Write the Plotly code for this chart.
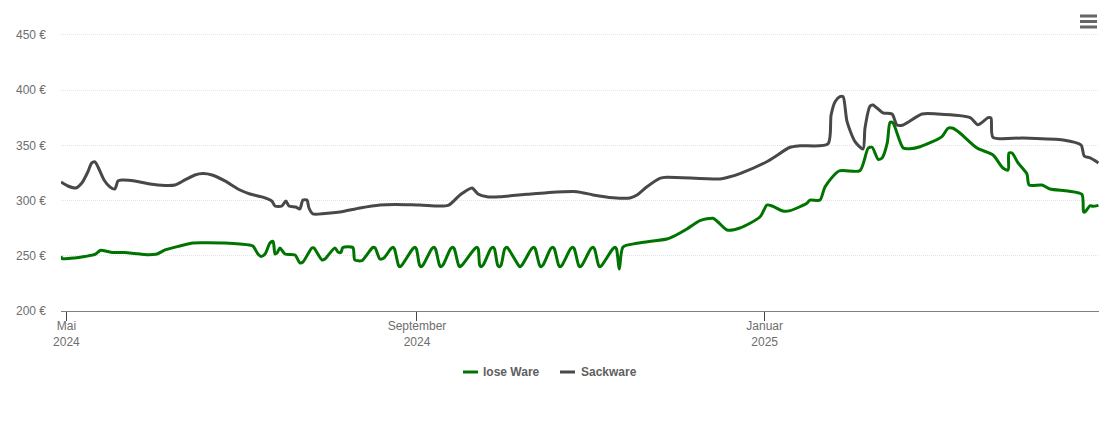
import pandas as pd
import plotly.graph_objs as go

START = pd.Timestamp('2024-05-01')

# days since 1 May 2024 and price in euro
lose_days = [
    -1.9, -1.6, 3.0, 6.5, 10, 11.8, 12.8, 16, 20.5, 24, 28.6, 31.8, 34.6, 39.8, 44.4, 48.6,
    55.6, 60.9, 65.4, 67.2, 68.3, 69.7, 71.4, 72.5, 73.2, 73.9, 74.9, 76.7, 80.2, 81.9, 83,
    86.1, 86.8, 89.7, 90.7, 94.2, 95.3, 96.3, 97, 100.5, 101.2, 103.7, 105.1, 107.5, 108.3,
    110, 111.4,
    113.8, 114.6, 115.1, 116.5, 117, 117.7, 121.5, 122.3, 122.8, 123.9, 124.4, 125.1,
    128.2, 129, 129.5, 130.9, 131.4, 132.1, 134.8, 135.6, 136.1, 137.6, 138.1, 138.8,
    143.2, 144, 144.5, 145, 145.5, 146.2, 148.9, 149.7, 150.2, 151.3, 151.8, 152.5,
    153.8, 154.6, 155.1, 158.6, 159.1, 159.8, 163.2, 164, 164.5, 166, 166.5, 167.2,
    169.9, 170.7, 171.2, 172.7, 173.2, 173.9, 176.9, 177.7, 178.2, 179.7, 180.2, 180.9,
    184, 184.8, 185.3, 186.7, 187.2, 187.9, 191.7, 192.5, 193, 194, 195.3,
    200.2, 210.7, 212.8, 217.7, 222.3, 226.9, 228.6, 231.8, 236.3, 243.4, 245.8, 247.6,
    251.4, 253.9, 259.8, 260.9, 264.4, 266.2, 271.1, 278.4, 281.3, 282.7, 284.8, 286.2,
    288, 289, 290, 293.6, 296, 299.5, 307.2, 309.3, 311.1, 313.5, 319.5, 325.1, 328.6,
    330.4, 330.7, 331.8, 333.9, 337, 337.8, 342.3, 345.1, 351.4, 356.3, 356.9, 357.4,
    359.2, 360.2, 362.1,
]
lose_prices = [
    249.8, 247.6, 248, 249.4, 251.2, 254.8, 254.8, 253, 253, 252.1, 250.9, 251.6, 255.3, 258.9, 261.6, 261.8,
    261.6, 260.7, 258.9, 251.6, 249.4, 251.6, 261.6, 263, 251.6, 252.5, 257.1, 251.6, 250.7, 243.5, 244.4,
    257.1, 257.1, 246.2, 247.1, 257.1, 253.4, 253, 257.5, 257.5, 246.2, 245.7, 249.8, 257.5, 257.1,
    247.1, 248,
    256.3, 257.7, 256.3, 241.5, 240.1, 241.5, 256.3, 257.7, 256.3, 241.5, 240.1, 241.5,
    256.3, 257.7, 256.3, 241.5, 240.1, 241.5, 256.3, 257.7, 256.3, 241.5, 240.1, 241.5,
    256.3, 257.7, 256.3, 241.5, 240.1, 241.5, 256.3, 257.7, 256.3, 241.5, 240.1, 241.5,
    256.3, 257.7, 256.3, 241.5, 240.1, 241.5, 256.3, 257.7, 256.3, 241.5, 240.1, 241.5,
    256.3, 257.7, 256.3, 241.5, 240.1, 241.5, 256.3, 257.7, 256.3, 241.5, 240.1, 241.5,
    256.3, 257.7, 256.3, 241.5, 240.1, 241.5, 256.3, 257.7, 256.3, 238, 258,
    261.3, 265.2, 267.3, 274.3, 281.8, 284, 280.6, 273.4, 275.2, 285.4, 296, 295.1,
    290.6, 290.9, 297.6, 300.5, 300.5, 312.6, 326.8, 327.1, 347.4, 348.3, 337.4, 338.6,
    352.2, 370.9, 370.3, 347.6, 347, 348.8, 357.9, 365.5, 365.5, 361.2, 347.6, 341.3, 329.5,
    327.7, 343.1, 343.1, 334.1, 324.1, 314.1, 314.1, 310.5, 308.7, 305.7, 289.7, 289.7,
    295.4, 294.8, 295.7,
]
sack_days = [
    -1.9, 0.5, 3.3, 5.4, 7.5, 8.9, 10, 11.1, 13.2, 15.3, 17, 18.1, 19.5, 24, 29.3, 34.6, 38.1,
    41.6, 45.1, 47.9, 51.1, 55.6, 60.9, 64.4, 68.6, 72.1, 73.2, 75.6, 77, 78.1, 80.5, 81.9,
    83, 84.4, 85.1, 86.5, 90.7, 96, 103, 110, 115.3, 124, 133.9, 138.1, 142.3, 144.4, 147.6,
    152.1, 161.6, 168.6, 179.1, 184.8, 191.8, 197.7, 200.2, 203.7, 208.2, 210.7, 229.3,
    232.1, 236.3, 246.2, 253.9, 257.4, 267.2, 268.3, 269.7, 271.4, 272.5, 273.9, 276.7,
    279.5, 280.2, 282, 283, 286.5, 289.7, 291.4, 293.6, 300.2, 305.5, 317.1, 319.8, 323.4,
    324.4, 325.1, 335.7, 349.7, 356, 357.1, 359.2, 362.1,
]
sack_prices = [
    316.8, 313.2, 311.4, 315.9, 325.9, 334.1, 335, 330.4, 318.7, 312.3, 310.5, 317.8, 318.7, 317.8, 315, 313.7, 314.1,
    318.7, 323.2, 324.5, 323.2, 317.8, 309.6, 306, 303.3, 299.6, 295.1, 295.1, 299.6, 295.1, 294.2, 292.4,
    300.5, 300.5, 293.3, 287.9, 288.3, 289.7, 293.3, 296, 296.5, 296, 295.6, 305.1, 311.4, 306, 303.5,
    303.5, 305.7, 307.2, 308.1, 305.1, 302.6, 302.4, 305.1, 312.6, 320.2, 321.1, 319.6,
    321.1, 324.5, 335.9, 348.3, 349.7, 351.3, 377.5, 389.6, 394.1, 394.1, 371.5, 353.4,
    346.7, 365.8, 385.7, 386.6, 379.4, 378.4, 368.5, 368.5, 378.4, 378.4, 375.1, 368.7, 375.1,
    374.8, 357.3, 356.7, 354.9, 350.4, 340.4, 338.6, 334.1,
]

x_ticks = ['2024-05-01', '2024-09-01', '2025-01-01']
x_labels = ['Mai<br>2024', 'September<br>2024', 'Januar<br>2025']
y_ticks = [200, 250, 300, 350, 400, 450]
y_labels = ['200 €', '250 €', '300 €', '350 €', '400 €', '450 €']

LOSE_COLOR = '#007400'
SACK_COLOR = '#484848'
TEXT_COLOR = '#6e6e6e'

# plot box on the page, in pixels
LEFT, RIGHT, TOP, BOTTOM = 61, 1099, 30, 311


def to_dates(days):
    """Turns day offsets into timestamps."""
    return START + pd.to_timedelta(days, unit='D')


def paper_x(px):
    return (px - LEFT) / (RIGHT - LEFT)


def paper_y(px):
    return (BOTTOM - px) / (BOTTOM - TOP)


def trace_price(days, prices, name, color):
    """Traces one price history as a smooth line."""
    return go.Scatter(
        x=to_dates(days),
        y=prices,
        name=name,
        mode='lines',
        showlegend=False,
        line={'color': color, 'width': 3, 'shape': 'spline', 'smoothing': 0.7},
    )


def add_bar(fig, x0, x1, y, color):
    """Short horizontal stroke, for the legend keys and the menu icon."""
    fig.add_shape(
        type='line', xref='paper', yref='paper',
        x0=paper_x(x0), x1=paper_x(x1), y0=paper_y(y), y1=paper_y(y),
        line={'color': color, 'width': 3},
    )


fig = go.Figure()
fig.add_trace(trace_price(lose_days, lose_prices, 'lose Ware', LOSE_COLOR))
fig.add_trace(trace_price(sack_days, sack_prices, 'Sackware', SACK_COLOR))

fig.update_layout(
    width=1110, height=422,
    margin={'l': LEFT, 'r': 1110 - RIGHT, 't': TOP, 'b': 422 - BOTTOM},
    paper_bgcolor='white',
    plot_bgcolor='white',
    font={'family': 'Liberation Sans', 'size': 12, 'color': TEXT_COLOR},
    xaxis={
        'range': [to_dates([-1.9])[0], to_dates([362.3])[0]],
        'tickvals': x_ticks, 'ticktext': x_labels,
        'showgrid': False, 'zeroline': False,
        'showline': True, 'linecolor': '#808080', 'linewidth': 1,
        'ticks': 'outside', 'ticklen': 9, 'tickcolor': '#444444', 'tickwidth': 1,
        'ticklabelstandoff': -5,
    },
    yaxis={
        'range': [200, 454.5], 'tickvals': y_ticks, 'ticktext': y_labels,
        'showgrid': True, 'gridcolor': '#e4e4e4', 'griddash': '1px,1px', 'gridwidth': 1,
        'zeroline': False, 'ticks': '', 'ticklabelstandoff': 14,
    },
)

# legend row under the chart
add_bar(fig, 463, 478, 372, LOSE_COLOR)
add_bar(fig, 560, 575, 372, SACK_COLOR)
for left, name in ((481, 'lose Ware'), (579, 'Sackware')):
    fig.add_annotation(
        xref='paper', yref='paper', x=paper_x(left), y=paper_y(372),
        xanchor='left', yanchor='middle', showarrow=False, text=f'<b>{name}</b>',
        font={'size': 12, 'color': '#606060'},
    )

# menu icon in the top right corner
for y in (16, 21.5, 27):
    add_bar(fig, 1080, 1097, y, '#666666')

fig.write_html('out.html', config={'displayModeBar': False},
               post_script="document.body.style.margin='0';")
